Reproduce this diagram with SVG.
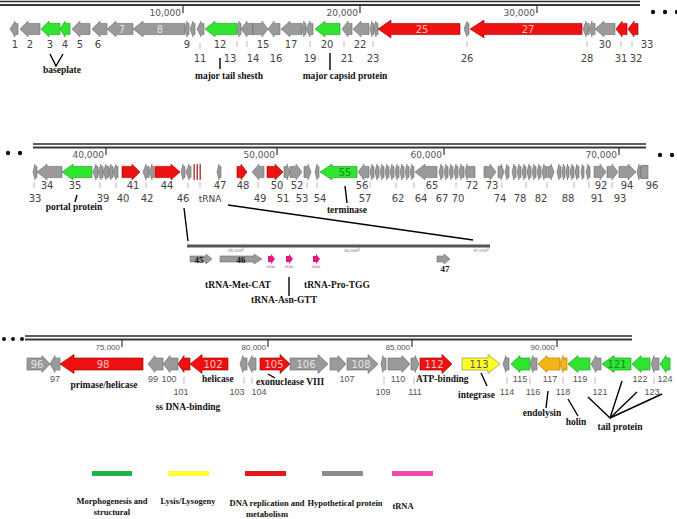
<svg xmlns="http://www.w3.org/2000/svg" width="677" height="519" viewBox="0 0 677 519">
<style>
.g{fill:#9a9a9a;stroke:#6e6e6e;stroke-width:.6}
.gn{fill:#30e530;stroke:#1a9a1a;stroke-width:.6}
.rd{fill:#ee1111;stroke:#a00000;stroke-width:.6}
.yl{fill:#ffff22;stroke:#a09a60;stroke-width:.7}
.or{fill:#f4b41a;stroke:#b07a00;stroke-width:.6}
.mg{fill:#e8187a}
.n{font-family:"DejaVu Sans",sans-serif;font-size:10px;fill:#444;text-anchor:middle}
.n3{font-family:"Liberation Sans",sans-serif;font-size:9px;fill:#555;text-anchor:middle}
.in{font-family:"DejaVu Sans",sans-serif;font-size:10px;fill:#fff;fill-opacity:.75;text-anchor:middle}
.ind{font-family:"DejaVu Sans",sans-serif;font-size:10px;fill:#555;text-anchor:middle}
.a{font-family:"Liberation Serif",serif;font-weight:bold;font-size:9.5px;fill:#111}
.ac{font-family:"Liberation Serif",serif;font-weight:bold;font-size:9.5px;fill:#111;text-anchor:middle}
.lg{font-family:"Liberation Serif",serif;font-weight:bold;font-size:8.5px;fill:#111;text-anchor:middle}
.sc{font-family:"DejaVu Sans",sans-serif;font-size:9px;fill:#555;text-anchor:end}
.sc3{font-family:"Liberation Sans",sans-serif;font-size:8px;fill:#555;text-anchor:end}
.tk{stroke:#aaa;stroke-width:.8}
.rt{stroke:#333;stroke-width:1.2}
.ln{stroke:#000;stroke-width:1.4;fill:none}
.r1{stroke:#2a2a2a;stroke-width:1.6}
.r2{stroke:#3a3a3a;stroke-width:2.2}
.dot{fill:#111}
</style>

<!-- rulers -->
<g id="ruler-1">
<line class="r1" x1="0" y1="1.5" x2="640" y2="1.5"/><line class="r2" x1="0" y1="5" x2="640" y2="5"/>
<line class="rt" x1="183" y1="5" x2="183" y2="13"/><text class="sc" x="181" y="16">10,000</text>
<line class="rt" x1="360" y1="5" x2="360" y2="13"/><text class="sc" x="358" y="16">20,000</text>
<line class="rt" x1="537" y1="5" x2="537" y2="13"/><text class="sc" x="535" y="16">30,000</text>
<circle class="dot" cx="653" cy="12" r="2.2"/><circle class="dot" cx="665" cy="12" r="2.2"/><circle class="dot" cx="677" cy="12" r="2.2"/>
</g>
<g id="ruler-2">
<line class="r1" x1="33" y1="144" x2="646" y2="144"/><line class="r2" x1="33" y1="147.5" x2="646" y2="147.5"/>
<line class="rt" x1="106" y1="147" x2="106" y2="155"/><text class="sc" x="104" y="158">40,000</text>
<line class="rt" x1="277" y1="147" x2="277" y2="155"/><text class="sc" x="275" y="158">50,000</text>
<line class="rt" x1="444" y1="147" x2="444" y2="155"/><text class="sc" x="442" y="158">60,000</text>
<line class="rt" x1="619" y1="147" x2="619" y2="155"/><text class="sc" x="617" y="158">70,000</text>
<circle class="dot" cx="8" cy="153" r="2.2"/><circle class="dot" cx="20" cy="153" r="2.2"/>
<circle class="dot" cx="660" cy="155" r="2.2"/><circle class="dot" cx="672" cy="155" r="2.2"/>
</g>
<g id="ruler-3">
<line class="r1" x1="25" y1="336" x2="632" y2="336"/><line class="r2" x1="25" y1="339.5" x2="632" y2="339.5"/>
<line class="rt" x1="122" y1="339" x2="122" y2="347"/><text class="sc3" x="120" y="350">75,000</text>
<line class="rt" x1="268" y1="339" x2="268" y2="347"/><text class="sc3" x="266" y="350">80,000</text>
<line class="rt" x1="412" y1="339" x2="412" y2="347"/><text class="sc3" x="410" y="350">85,000</text>
<line class="rt" x1="557" y1="339" x2="557" y2="347"/><text class="sc3" x="555" y="350">90,000</text>
<circle class="dot" cx="4" cy="339" r="2"/><circle class="dot" cx="13" cy="339" r="2"/><circle class="dot" cx="22" cy="339" r="2"/>
</g>

<!-- row 1 genes -->
<g id="row1" transform="translate(0,29) scale(1,1.12) translate(0,-29)">
<g id="gene-1"><polygon class="g" points="10,29 15,22 15,24 18,24 18,34 15,34 15,36"/></g>
<g id="gene-2"><polygon class="g" points="20,29 28,22 28,24 40,24 40,34 28,34 28,36"/></g>
<g id="gene-3"><polygon class="gn" points="41,29 49,22 49,24 60,24 60,34 49,34 49,36"/></g>
<g id="gene-4"><polygon class="gn" points="60,29 65,22 65,24 70,24 70,34 65,34 65,36"/></g>
<g id="gene-5"><polygon class="g" points="72,29 80,22 80,24 90,24 90,34 80,34 80,36"/></g>
<g id="gene-6"><polygon class="g" points="92,29 100,22 100,24 107,24 107,34 100,34 100,36"/></g>
<g id="gene-7"><polygon class="g" points="107,29 116,22 116,24 133,24 133,34 116,34 116,36"/></g>
<g id="gene-8"><polygon class="g" points="133,29 143,22 143,24 185,24 185,34 143,34 143,36"/></g>
<g id="gene-9"><polygon class="g" points="185,29 187,22 187,24 189,24 189,34 187,34 187,36"/></g>
<g id="gene-10"><polygon class="g" points="190,29 193,22 193,24 195,24 195,34 193,34 193,36"/></g>
<g id="gene-11"><polygon class="g" points="197,29 201,22 201,24 204,24 204,34 201,34 201,36"/></g>
<g id="gene-12"><polygon class="gn" points="205,29 215,22 215,24 237,24 237,34 215,34 215,36"/></g>
<g id="gene-13"><polygon class="g" points="237,29 239,22 239,24 241,24 241,34 239,34 239,36"/></g>
<g id="gene-14"><polygon class="g" points="241,29 247,22 247,24 253,24 253,34 247,34 247,36"/></g>
<g id="gene-15"><polygon class="g" points="253,24 262,24 262,22 268,29 262,36 262,34 253,34"/></g>
<g id="gene-16"><polygon class="g" points="268,29 274,22 274,24 280,24 280,34 274,34 274,36"/></g>
<g id="gene-17"><polygon class="g" points="281,29 290,22 290,24 302,24 302,34 290,34 290,36"/></g>
<g id="gene-18"><polygon class="g" points="302,29 304,22 304,24 306,24 306,34 304,34 304,36"/></g>
<g id="gene-19"><polygon class="g" points="306,29 310,22 310,24 313,24 313,34 310,34 310,36"/></g>
<g id="gene-20"><polygon class="gn" points="315,29 325,22 325,24 340,24 340,34 325,34 325,36"/></g>
<g id="gene-21"><polygon class="g" points="342,29 348,22 348,24 352,24 352,34 348,34 348,36"/></g>
<g id="gene-22"><polygon class="g" points="353,29 361,22 361,24 369,24 369,34 361,34 361,36"/></g>
<g id="gene-23"><polygon class="g" points="370,29 372,22 372,24 374,24 374,34 372,34 372,36"/></g>
<g id="gene-24"><polygon class="g" points="374,29 376,22 376,24 378,24 378,34 376,34 376,36"/></g>
<g id="gene-25"><polygon class="rd" points="378,29 391,21 391,24 460,24 460,34 391,34 391,37"/></g>
<g id="gene-26"><polygon class="g" points="464,29 467,22 467,24 469,24 469,34 467,34 467,36"/></g>
<g id="gene-27"><polygon class="rd" points="470,29 484,21 484,24 582,24 582,34 484,34 484,37"/></g>
<g id="gene-28"><polygon class="g" points="583,29 586,22 586,24 589,24 589,34 586,34 586,36"/></g>
<g id="gene-29"><polygon class="g" points="589,29 592,22 592,24 595,24 595,34 592,34 592,36"/></g>
<g id="gene-30"><polygon class="g" points="595,29 604,22 604,24 615,24 615,34 604,34 604,36"/></g>
<g id="gene-31"><polygon class="rd" points="616,29 622,22 622,24 627,24 627,34 622,34 622,36"/></g>
<g id="gene-32"><polygon class="rd" points="628,29 634,22 634,24 638,24 638,34 634,34 634,36"/></g>
</g>
<g id="row1-labels">
<text class="in" x="122" y="33">7</text><text class="in" x="160" y="33">8</text>
<text class="in" x="422" y="33">25</text><text class="in" x="528" y="33">27</text>
<text class="n" x="15" y="48">1</text><text class="n" x="30" y="48">2</text><text class="n" x="50" y="48">3</text><text class="n" x="65" y="48">4</text>
<text class="n" x="80" y="48">5</text><text class="n" x="98" y="48">6</text><text class="n" x="187" y="48">9</text><text class="n" x="220" y="48">12</text>
<text class="n" x="263" y="48">15</text><text class="n" x="291" y="48">17</text><text class="n" x="327" y="48">20</text><text class="n" x="360" y="48">22</text>
<text class="n" x="605" y="48">30</text><text class="n" x="647" y="48">33</text>
<text class="n" x="200" y="62">11</text><text class="n" x="230" y="62">13</text><text class="n" x="253" y="62">14</text><text class="n" x="276" y="62">16</text>
<text class="n" x="310" y="62">19</text><text class="n" x="347" y="62">21</text><text class="n" x="373" y="62">23</text><text class="n" x="467" y="62">26</text>
<text class="n" x="587" y="62">28</text><text class="n" x="621" y="62">31</text><text class="n" x="636" y="62">32</text>
<path class="tk" d="M200,43v6M237,41v6M247,41v6M265,41v6M310,41v6M344,41v6M373,41v6M467,41v6M587,41v6M621,41v6M632,41v6"/>
</g>

<!-- row 2 genes -->
<g id="row2" transform="translate(0,172) scale(1,1.12) translate(0,-172)">
<g id="gene-33"><polygon class="g" points="33,172 35,165 35,167 37,167 37,177 35,177 35,179"/></g>
<g id="gene-34"><polygon class="g" points="37,172 47,165 47,167 62,167 62,177 47,177 47,179"/></g>
<g id="gene-35"><polygon class="gn" points="62,172 73,165 73,167 92,167 92,177 73,177 73,179"/></g>
<g id="genes-36-40">
<polygon class="g" points="93,172 96,165 96,167 98,167 98,177 96,177 96,179"/>
<polygon class="g" points="98,172 101,165 101,167 103,167 103,177 101,177 101,179"/>
<polygon class="g" points="103,172 106,165 106,167 109,167 109,177 106,177 106,179"/>
<polygon class="g" points="109,172 111,165 111,167 113,167 113,177 111,177 111,179"/>
<polygon class="g" points="113,172 116,165 116,167 118,167 118,177 116,177 116,179"/>
</g>
<g id="gene-41"><polygon class="rd" points="122,167 132,167 132,165 140,172 132,179 132,177 122,177"/></g>
<g id="gene-42"><polygon class="g" points="143,172 146,165 146,167 149,167 149,177 146,177 146,179"/><polygon class="g" points="149,172 152,165 152,167 154,167 154,177 152,177 152,179"/></g>
<g id="gene-44"><polygon class="rd" points="155,167 171,167 171,165 180,172 171,179 171,177 155,177"/></g>
<g id="gene-45"><polygon class="g" points="181,172 183,165 183,167 185,167 185,177 183,177 183,179"/></g>
<g id="gene-46"><polygon class="g" points="186,172 189,165 189,167 191,167 191,177 189,177 189,179"/></g>
<g id="trna-cluster"><rect x="193.5" y="165" width="1.4" height="14" fill="#a33"/><rect x="196.5" y="165" width="1.4" height="14" fill="#a33"/><rect x="199.5" y="165" width="1.4" height="14" fill="#a33"/></g>
<g id="gene-47"><polygon class="g" points="217,172 219,165 219,167 221,167 221,177 219,177 219,179"/></g>
<g id="gene-48"><polygon class="rd" points="237,167 241,167 241,165 247,172 241,179 241,177 237,177"/></g>
<g id="gene-49"><polygon class="g" points="252,172 259,165 259,167 264,167 264,177 259,177 259,179"/></g>
<g id="gene-50"><polygon class="rd" points="267,167 275,167 275,165 283,172 275,179 275,177 267,177"/></g>
<g id="gene-51"><polygon class="g" points="284,167 287,167 287,165 290,172 287,179 287,177 284,177"/></g>
<g id="gene-52"><polygon class="g" points="290,167 296,167 296,165 302,172 296,179 296,177 290,177"/></g>
<g id="gene-53"><polygon class="g" points="304,167 308,167 308,165 311,172 308,179 308,177 304,177"/></g>
<g id="gene-54"><polygon class="g" points="315,172 317,165 317,167 319,167 319,177 317,177 317,179"/></g>
<g id="gene-55"><polygon class="gn" points="320,172 332,165 332,167 357,167 357,177 332,177 332,179"/></g>
<g id="gene-56"><polygon class="g" points="358,172 364,165 364,167 369,167 369,177 364,177 364,179"/></g>
<g id="genes-57-64">
<polygon class="g" points="370,172 372,165 372,167 374,167 374,177 372,177 372,179"/>
<polygon class="g" points="375,172 377,165 377,167 379,167 379,177 377,177 377,179"/>
<polygon class="g" points="380,172 382,165 382,167 384,167 384,177 382,177 382,179"/>
<polygon class="g" points="385,172 387,165 387,167 389,167 389,177 387,177 387,179"/>
<polygon class="g" points="390,172 392,165 392,167 394,167 394,177 392,177 392,179"/>
<polygon class="g" points="395,172 397,165 397,167 399,167 399,177 397,177 397,179"/>
<polygon class="g" points="400,172 402,165 402,167 404,167 404,177 402,177 402,179"/>
<polygon class="g" points="405,172 407,165 407,167 409,167 409,177 407,177 407,179"/>
<polygon class="g" points="410,172 412,165 412,167 414,167 414,177 412,177 412,179"/>
</g>
<g id="gene-65"><polygon class="g" points="415,172 425,165 425,167 437,167 437,177 425,177 425,179"/></g>
<g id="genes-66-71">
<polygon class="g" points="439,172 441,165 441,167 443,167 443,177 441,177 441,179"/>
<polygon class="g" points="444,172 446,165 446,167 448,167 448,177 446,177 446,179"/>
<polygon class="g" points="449,172 451,165 451,167 453,167 453,177 451,177 451,179"/>
<polygon class="g" points="454,172 456,165 456,167 458,167 458,177 456,177 456,179"/>
<polygon class="g" points="459,172 461,165 461,167 464,167 464,177 461,177 461,179"/>
</g>
<g id="gene-72"><polygon class="g" points="465,172 467,165 467,167 475,167 475,177 467,177 467,179"/></g>
<g id="gene-73"><polygon class="g" points="484,167 490,167 490,165 496,172 490,179 490,177 484,177"/></g>
<g id="genes-74-91">
<polygon class="g" points="498,167 501,167 501,165 504,172 501,179 501,177 498,177"/>
<polygon class="g" points="505,172 507,165 507,167 509,167 509,177 507,177 507,179"/>
<polygon class="g" points="512,172 514,165 514,167 516,167 516,177 514,177 514,179"/>
<polygon class="g" points="517,172 519,165 519,167 521,167 521,177 519,177 519,179"/>
<polygon class="g" points="522,172 524,165 524,167 526,167 526,177 524,177 524,179"/>
<polygon class="g" points="527,172 529,165 529,167 531,167 531,177 529,177 529,179"/>
<polygon class="g" points="532,172 534,165 534,167 536,167 536,177 534,177 534,179"/>
<polygon class="g" points="537,172 539,165 539,167 541,167 541,177 539,177 539,179"/>
<polygon class="g" points="542,172 544,165 544,167 547,167 547,177 544,177 544,179"/>
<polygon class="g" points="548,167 551,167 551,165 554,172 551,179 551,177 548,177"/>
<polygon class="g" points="557,172 559,165 559,167 561,167 561,177 559,177 559,179"/>
<polygon class="g" points="562,172 563.5,165 563.5,167 565,167 565,177 563.5,177 563.5,179"/>
<polygon class="g" points="566,172 567.5,165 567.5,167 569,167 569,177 567.5,177 567.5,179"/>
<polygon class="g" points="570,172 572,165 572,167 574,167 574,177 572,177 572,179"/>
<polygon class="g" points="575,172 577,165 577,167 579,167 579,177 577,177 577,179"/>
<polygon class="g" points="581,172 582.5,165 582.5,167 584,167 584,177 582.5,177 582.5,179"/>
<polygon class="g" points="586,172 588,165 588,167 590,167 590,177 588,177 588,179"/>
</g>
<g id="gene-92"><polygon class="g" points="594,167 600,167 600,165 606,172 600,179 600,177 594,177"/></g>
<g id="gene-93"><polygon class="g" points="607,167 612,167 612,165 618,172 612,179 612,177 607,177"/></g>
<g id="gene-94"><polygon class="g" points="619,167 628,167 628,165 636,172 628,179 628,177 619,177"/></g>
<g id="gene-95"><polygon class="g" points="637,172 639,165 639,167 641,167 641,177 639,177 639,179"/></g>
<g id="gene-96a"><rect class="g" x="641" y="166" width="7" height="12"/></g>
</g>
<g id="row2-labels">
<text x="345" y="176" style="font-family:'DejaVu Sans',sans-serif;font-size:10px;fill:#1f8a1f;text-anchor:middle">55</text>
<text class="n" x="47" y="189">34</text><text class="n" x="75" y="189">35</text><text class="n" x="133" y="189">41</text><text class="n" x="167" y="189">44</text>
<text class="n" x="220" y="189">47</text><text class="n" x="243" y="189">48</text><text class="n" x="277" y="189">50</text><text class="n" x="297" y="189">52</text>
<text class="n" x="362" y="189">56</text><text class="n" x="432" y="189">65</text><text class="n" x="472" y="189">72</text><text class="n" x="492" y="189">73</text>
<text class="n" x="601" y="189">92</text><text class="n" x="627" y="189">94</text><text class="n" x="652" y="189">96</text>
<text class="n" x="35" y="202">33</text><text class="n" x="103" y="202">39</text><text class="n" x="123" y="202">40</text><text class="n" x="147" y="202">42</text>
<text class="n" x="183" y="202">46</text><text class="n" x="210" y="202" style="font-size:9px">tRNA</text><text class="n" x="260" y="202">49</text><text class="n" x="283" y="202">51</text>
<text class="n" x="302" y="202">53</text><text class="n" x="320" y="202">54</text><text class="n" x="365" y="202">57</text><text class="n" x="398" y="202">62</text>
<text class="n" x="421" y="202">64</text><text class="n" x="442" y="202">67</text><text class="n" x="458" y="202">70</text><text class="n" x="500" y="202">74</text>
<text class="n" x="520" y="202">78</text><text class="n" x="541" y="202">82</text><text class="n" x="568" y="202">88</text><text class="n" x="597" y="202">91</text><text class="n" x="620" y="202">93</text>
<path class="tk" d="M34,182v6M100,182v6M116,182v6M146,182v6M188,182v6M200,182v6M258,182v6M281,182v6M307,182v6M317,182v6M370,182v6M396,182v6M414,182v6M436,182v6M456,182v6M502,182v6M526,182v6M547,182v6M574,182v6M589,182v6M612,182v6"/>
</g>

<!-- inset -->
<g id="inset">
<line x1="187" y1="246" x2="490" y2="246" stroke="#555" stroke-width="2.8"/>
<g style="font-family:'DejaVu Sans',sans-serif;font-size:4px;fill:#777;text-anchor:end">
<text x="242" y="252">45,000</text><text x="358" y="252">46,000</text><text x="487" y="252">47,000</text>
</g>
<path stroke="#777" stroke-width=".6" d="M243,247v4M359,247v4M488,247v4"/>
<g id="inset-45"><polygon class="g" points="190,256 206,256 206,254 212,259 206,264 206,262 190,262"/><text x="199" y="262.5" style="font-family:'Liberation Serif',serif;font-weight:bold;font-size:9px;fill:#111;text-anchor:middle">45</text></g>
<g id="inset-46"><polygon class="g" points="220,256 254,256 254,254 262,259 254,264 254,262 220,262"/><text x="241" y="262.5" style="font-family:'Liberation Serif',serif;font-weight:bold;font-size:9px;fill:#111;text-anchor:middle">46</text></g>
<g id="trna-met"><polygon class="mg" points="268,256 271,256 271,254 275,259 271,264 271,262 268,262"/><text x="271" y="268" style="font-family:'DejaVu Sans',sans-serif;font-size:3.5px;fill:#c04080;text-anchor:middle">tRNA</text></g>
<g id="trna-asn"><polygon class="mg" points="286,256 289,256 289,254 293,259 289,264 289,262 286,262"/><text x="289" y="268" style="font-family:'DejaVu Sans',sans-serif;font-size:3.5px;fill:#c04080;text-anchor:middle">tRNA</text></g>
<g id="trna-pro"><polygon class="mg" points="313,256 316,256 316,254 320,259 316,264 316,262 313,262"/><text x="316" y="268" style="font-family:'DejaVu Sans',sans-serif;font-size:3.5px;fill:#c04080;text-anchor:middle">tRNA</text></g>
<g id="inset-47"><polygon class="g" points="437,256 444,256 444,254 450,259 444,264 444,262 437,262"/><text x="445" y="272" style="font-family:'Liberation Serif',serif;font-weight:bold;font-size:9px;fill:#111;text-anchor:middle">47</text></g>
<text class="ac" x="238" y="288">tRNA-Met-CAT</text>
<text class="ac" x="337" y="288">tRNA-Pro-TGG</text>
<text class="ac" x="284" y="303">tRNA-Asn-GTT</text>
</g>

<!-- row 3 genes -->
<g id="row3" transform="translate(0,364) scale(1,1.2) translate(0,-363)">
<g id="gene-96"><polygon class="g" points="27,358 42,358 42,356 50,363 42,370 42,368 27,368"/></g>
<g id="gene-97"><polygon class="g" points="50,363 55,356 55,358 60,358 60,368 55,368 55,370"/></g>
<g id="gene-98"><polygon class="rd" points="60,363 74,355 74,358 143,358 143,368 74,368 74,371"/></g>
<g id="gene-99"><polygon class="g" points="148,363 155,356 155,358 163,358 163,368 155,368 155,370"/></g>
<g id="gene-100"><polygon class="g" points="163,363 170,356 170,358 178,358 178,368 170,368 170,370"/></g>
<g id="gene-101"><polygon class="rd" points="178,363 184,356 184,358 190,358 190,368 184,368 184,370"/></g>
<g id="gene-102"><polygon class="rd" points="190,363 202,355 202,358 228,358 228,368 202,368 202,371"/></g>
<g id="gene-103"><polygon class="g" points="240,363 243,356 243,358 247,358 247,368 243,368 243,370"/></g>
<g id="gene-104"><polygon class="g" points="248,363 252,356 252,358 256,358 256,368 252,368 252,370"/></g>
<g id="gene-105"><polygon class="rd" points="260,358 280,358 280,355 290,363 280,371 280,368 260,368"/></g>
<g id="gene-106"><polygon class="g" points="290,358 318,358 318,355 328,363 318,371 318,368 290,368"/></g>
<g id="gene-107"><polygon class="g" points="330,358 338,358 338,356 346,363 338,370 338,368 330,368"/></g>
<g id="gene-108"><polygon class="g" points="347,358 368,358 368,355 378,363 368,371 368,368 347,368"/></g>
<g id="gene-109"><polygon class="g" points="381,363 383,356 383,358 386,358 386,368 383,368 383,370"/></g>
<g id="gene-110"><polygon class="g" points="388,358 402,358 402,356 410,363 402,370 402,368 388,368"/></g>
<g id="gene-111"><polygon class="g" points="411,358 415,358 415,356 419,363 415,370 415,368 411,368"/></g>
<g id="gene-112"><polygon class="rd" points="420,358 442,358 442,355 452,363 442,371 442,368 420,368"/></g>
<g id="gene-113"><polygon class="yl" points="462,358 488,358 488,355 500,363 488,371 488,368 462,368"/></g>
<g id="gene-114"><polygon class="g" points="503,363 506,356 506,358 509,358 509,368 506,368 506,370"/></g>
<g id="gene-115"><polygon class="gn" points="511,363 520,356 520,358 530,358 530,368 520,368 520,370"/></g>
<g id="gene-116"><polygon class="g" points="530,363 533,356 533,358 537,358 537,368 533,368 533,370"/></g>
<g id="gene-117"><polygon class="or" points="538,363 547,356 547,358 560,358 560,368 547,368 547,370"/></g>
<g id="gene-118"><polygon class="or" points="560,363 563,356 563,358 567,358 567,368 563,368 563,370"/></g>
<g id="gene-119"><polygon class="gn" points="568,363 578,356 578,358 590,358 590,368 578,368 578,370"/></g>
<g id="gene-120"><polygon class="g" points="591,363 596,356 596,358 601,358 601,368 596,368 596,370"/></g>
<g id="gene-121"><polygon class="gn" points="602,363 614,356 614,358 631,358 631,368 614,368 614,370"/></g>
<g id="gene-122"><polygon class="gn" points="632,363 641,356 641,358 650,358 650,368 641,368 641,370"/></g>
<g id="gene-123"><polygon class="g" points="651,363 654,356 654,358 659,358 659,368 654,368 654,370"/></g>
<g id="gene-124"><polygon class="gn" points="660,363 666,356 666,358 670,358 670,368 666,368 666,370"/></g>
</g>
<g id="row3-labels">
<text class="in" x="37" y="367.5">96</text><text class="in" x="103" y="367.5">98</text><text class="in" x="213" y="367.5">102</text>
<text class="in" x="274" y="367.5">105</text><text class="in" x="306" y="367.5">106</text><text class="in" x="361" y="367.5">108</text>
<text class="in" x="434" y="367.5">112</text><text class="ind" x="479" y="367.5">113</text>
<text x="617" y="367.5" style="font-family:'DejaVu Sans',sans-serif;font-size:10px;fill:#1f8a1f;text-anchor:middle">121</text>
<text class="n3" x="55" y="382">97</text><text class="n3" x="153" y="382">99</text><text class="n3" x="169" y="382">100</text>
<text class="n3" x="347" y="382">107</text><text class="n3" x="398" y="382">110</text><text class="n3" x="520" y="382">115</text>
<text class="n3" x="550" y="382">117</text><text class="n3" x="580" y="382">119</text><text class="n3" x="640" y="382">122</text><text class="n3" x="665" y="382">124</text>
<text class="n3" x="181" y="395">101</text><text class="n3" x="237" y="395">103</text><text class="n3" x="259" y="395">104</text>
<text class="n3" x="383" y="395">109</text><text class="n3" x="415" y="395">111</text><text class="n3" x="507" y="395">114</text>
<text class="n3" x="533" y="395">116</text><text class="n3" x="563" y="395">118</text><text class="n3" x="600" y="395">121</text><text class="n3" x="652" y="395">123</text>
<path class="tk" d="M184,377v7M244,377v7M252,377v7M384,377v7M414,377v7M507,377v7M530,377v7M563,377v7M595,377v7M654,377v7"/>
</g>

<!-- annotations -->
<g id="annotations">
<text class="ac" x="62" y="73">baseplate</text>
<text class="ac" x="229" y="79">major tail shesth</text>
<text class="ac" x="345" y="79">major capsid protein</text>
<text class="ac" x="74" y="210">portal protein</text>
<text class="ac" x="347" y="213">terminase</text>
<text class="ac" x="104" y="388">primase/helicase</text>
<text class="a" x="202" y="382">helicase</text>
<text class="ac" x="188" y="410">ss DNA-binding</text>
<text class="a" x="256" y="385">exonuclease VIII</text>
<text class="a" x="416" y="382">ATP-binding</text>
<text class="a" x="458" y="398">integrase</text>
<text class="ac" x="542" y="416">endolysin</text>
<text class="ac" x="576" y="425">holin</text>
<text class="ac" x="620" y="430">tail protein</text>
</g>

<!-- connectors -->
<g id="connectors" class="ln">
<polyline points="50,54 56,66 63,54"/>
<line x1="220" y1="58" x2="220" y2="69"/>
<line x1="330" y1="53" x2="330" y2="70"/>
<line x1="77" y1="195" x2="75" y2="202"/>
<line x1="184" y1="208" x2="188" y2="241"/>
<line x1="228" y1="205" x2="473" y2="240"/>
<line x1="345" y1="186" x2="347" y2="203"/>
<line x1="289" y1="277" x2="289" y2="296"/>
<line x1="268" y1="374" x2="275" y2="378"/>
<line x1="481" y1="373" x2="487" y2="386"/>
<line x1="548" y1="391" x2="546" y2="408"/>
<line x1="568" y1="399" x2="578" y2="416"/>
<polyline points="588,397 610,418 622,381"/>
<line x1="637" y1="392" x2="610" y2="418"/>
<line x1="662" y1="394" x2="610" y2="418"/>
</g>

<!-- legend -->
<g id="legend">
<rect x="92" y="471" width="40" height="5" fill="#1db34a"/>
<rect x="168" y="471" width="41" height="5" fill="#ffff33"/>
<rect x="245" y="471" width="41" height="5" fill="#e31a1c"/>
<rect x="322" y="471" width="41" height="5" fill="#8c8c8c"/>
<rect x="392" y="471" width="41" height="5" fill="#f04ab0"/>
<text class="lg" x="112" y="504">Morphogenesis and</text><text class="lg" x="112" y="515">structural</text>
<text class="lg" x="188" y="504">Lysis/Lysogeny</text>
<text class="lg" x="267" y="506">DNA replication and</text><text class="lg" x="267" y="517">metabolism</text>
<text class="lg" x="345" y="506">Hypothetical protein</text>
<text class="lg" x="403" y="509">tRNA</text>
</g>
</svg>
